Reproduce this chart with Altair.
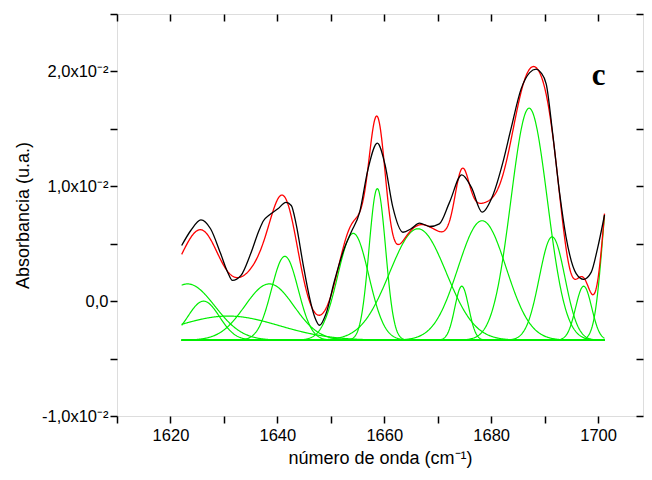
import altair as alt
import numpy as np
import pandas as pd

exp_wn = [1622.1, 1623.8, 1625.7, 1627.5, 1629.4, 1630.7, 1631.6, 1633.2, 1635.0, 1636.6,
          1637.4, 1638.5, 1640.1, 1641.6, 1642.6, 1643.5, 1644.8, 1646.0, 1647.0, 1647.9,
          1649.1, 1650.7, 1652.6, 1653.8, 1655.4, 1656.9, 1658.7, 1660.1, 1661.6, 1663.5,
          1665.0, 1666.6, 1668.5, 1670.3, 1672.2, 1674.5, 1676.3, 1678.3, 1680.3, 1682.2,
          1683.7, 1685.6, 1687.2, 1688.4, 1689.3, 1690.3, 1691.5, 1692.8, 1694.0, 1695.9,
          1697.3, 1698.7, 1699.9, 1701.2]
exp_abs = [0.00484, 0.00615, 0.00708, 0.00630, 0.00412, 0.00252, 0.00180, 0.00224, 0.00412, 0.00620,
           0.00700, 0.00750, 0.00804, 0.00860, 0.00833, 0.00673, 0.00325, 0.00035, -0.00140, -0.00210,
           -0.00110, 0.00180, 0.00470, 0.00600, 0.00775, 0.01137, 0.01375, 0.01196, 0.00818, 0.00600,
           0.00630, 0.00680, 0.00650, 0.00673, 0.00860, 0.01100, 0.00990, 0.00775, 0.00920, 0.01210,
           0.01500, 0.01848, 0.01990, 0.02020, 0.01990, 0.01890, 0.01460, 0.00940, 0.00560, 0.00240,
           0.00190, 0.00250, 0.00460, 0.00750]

# --- fitted bands (green): centre, height above baseline, width ---
band_center = [1623.2, 1626.2, 1630.8, 1638.5, 1641.4, 1654.2, 1658.7, 1666.3, 1674.5,
               1678.3, 1687.1, 1691.4, 1697.3, 1702.5]
band_height = [0.0049, 0.0034, 0.0021, 0.0049, 0.0073, 0.0093, 0.0132, 0.0097, 0.0047,
               0.0104, 0.0202, 0.0090, 0.0047, 0.0151]
band_sigma = [5.1, 2.95, 9.5, 4.6, 2.5, 2.9, 1.55, 5.3, 1.3,
              4.5, 3.4, 2.4, 1.5, 1.6]
baseline = -0.0034
fit_start, fit_end = 1622.1, 1701.2

# axis ticks / labels
x_ticks = [1610, 1620, 1630, 1640, 1650, 1660, 1670, 1680, 1690, 1700]
y_ticks = [-0.01, -0.005, 0.0, 0.005, 0.01, 0.015, 0.02, 0.025]

wn = np.round(np.arange(fit_start, fit_end + 0.001, 0.1), 2)
rows = []
total = np.full_like(wn, baseline)
for i, (c, h, s) in enumerate(zip(band_center, band_height, band_sigma)):
    g = h * np.exp(-((wn - c) ** 2) / (2 * s * s))
    total = total + g
    for w, v in zip(wn, baseline + g):
        rows.append({"wn": float(w), "a": float(v), "band": f"b{i}"})
bands = pd.DataFrame(rows)
fit = pd.DataFrame({"wn": wn, "a": total})
expdf = pd.DataFrame({"wn": exp_wn, "a": exp_abs})

xscale = alt.Scale(domain=[1610, 1708.4], nice=False, zero=False)
yscale = alt.Scale(domain=[-0.01, 0.025], nice=False, zero=False)

FONT = "Liberation Sans"
ylab = ("round(datum.value*1000) == 20 ? '2,0x10⁻²' : round(datum.value*1000) == 10 ? '1,0x10⁻²' : "
        "round(datum.value*1000) == 0 ? '0,0' : round(datum.value*1000) == -10 ? '-1,0x10⁻²' : ''")
xlab = "datum.value % 20 == 0 && datum.value > 1610 ? datum.value : ''"

xaxis = alt.Axis(values=x_ticks, labelExpr=xlab, title="número de onda (cm⁻¹)", orient="bottom",
                 domain=False, grid=False, tickSize=7, tickWidth=1.5, tickColor="black",
                 labelFont=FONT, labelFontSize=16.5, labelColor="black", labelPadding=4,
                 titleFont=FONT, titleFontSize=18, titleFontWeight="normal", titleColor="black",
                 titlePadding=6)
yaxis = alt.Axis(values=y_ticks, labelExpr=ylab, title="Absorbancia (u.a.)", orient="left",
                 domain=False, grid=False, tickSize=7, tickWidth=1.5, tickColor="black",
                 labelFont=FONT, labelFontSize=16.5, labelColor="black", labelPadding=2,
                 titleFont=FONT, titleFontSize=18, titleFontWeight="normal", titleColor="black",
                 titlePadding=9)
xaxis2 = alt.Axis(values=x_ticks, labels=False, title=None, orient="top", offset=-7,
                  domain=False, grid=False, tickSize=7, tickWidth=1.5, tickColor="black")
yaxis2 = alt.Axis(values=y_ticks, labels=False, title=None, orient="right", offset=-7,
                  domain=False, grid=False, tickSize=7, tickWidth=1.5, tickColor="black")

green = alt.Chart(bands).mark_line(color="#00ee00", strokeWidth=1.2, clip=True).encode(
    x=alt.X("wn:Q", scale=xscale, axis=xaxis),
    y=alt.Y("a:Q", scale=yscale, axis=yaxis),
    detail="band:N",
)
red = alt.Chart(fit).mark_line(color="#ff0000", strokeWidth=1.3, clip=True).encode(
    x=alt.X("wn:Q", scale=xscale, axis=xaxis2),
    y=alt.Y("a:Q", scale=yscale, axis=yaxis2),
)
black = alt.Chart(expdf).mark_line(color="#000000", strokeWidth=1.3, interpolate="monotone",
                                    clip=True).encode(
    x=alt.X("wn:Q", scale=xscale, axis=None),
    y=alt.Y("a:Q", scale=yscale, axis=None),
)
label = alt.Chart(pd.DataFrame({"wn": [1700.1], "a": [0.0188], "t": ["c"]})).mark_text(
    font="Liberation Serif", fontSize=31, fontWeight="bold", color="black",
    align="center", baseline="alphabetic").encode(
    x=alt.X("wn:Q", scale=xscale, axis=None),
    y=alt.Y("a:Q", scale=yscale, axis=None),
    text="t:N",
)

chart = alt.layer(green, red, black, label).resolve_axis(x="independent", y="independent").properties(
    width=526, height=402, autosize="none",
    padding={"left": 109, "top": 6, "right": 1, "bottom": 56},
).configure_view(stroke="black", strokeWidth=1.5).configure(background="white")

chart.save("out.html", embed_options={"renderer": "svg", "actions": False})
